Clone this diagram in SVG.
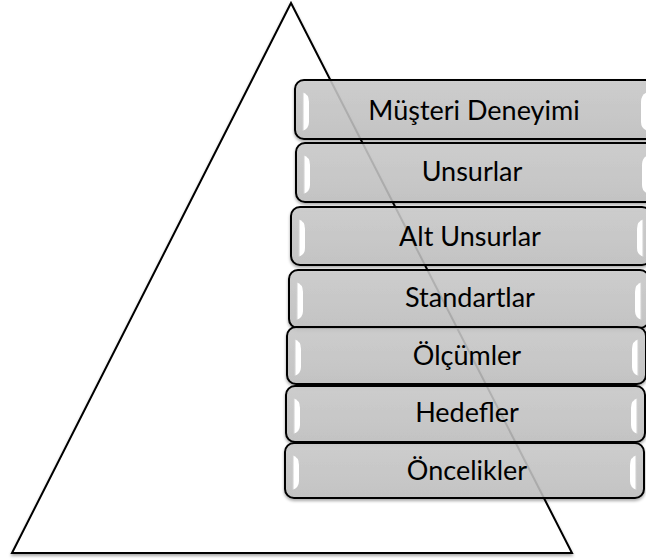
<svg xmlns="http://www.w3.org/2000/svg" width="646" height="560" viewBox="0 0 646 560">
<defs>
  <linearGradient id="boxFill" x1="0" y1="0" x2="0" y2="1">
    <stop offset="0" stop-color="#cbcbcb"/>
    <stop offset="0.5" stop-color="#c6c6c6"/>
    <stop offset="1" stop-color="#c0c0c0"/>
  </linearGradient>
  <linearGradient id="hlL" x1="0" y1="0" x2="1" y2="0">
    <stop offset="0" stop-color="#c0c0c0"/>
    <stop offset="0.35" stop-color="#ffffff"/>
    <stop offset="1" stop-color="#ffffff"/>
  </linearGradient>
  <linearGradient id="hlR" x1="1" y1="0" x2="0" y2="0">
    <stop offset="0" stop-color="#c0c0c0"/>
    <stop offset="0.35" stop-color="#ffffff"/>
    <stop offset="1" stop-color="#ffffff"/>
  </linearGradient>
  <filter id="shadow" x="-10%" y="-10%" width="120%" height="130%">
    <feDropShadow dx="0" dy="2" stdDeviation="1.5" flood-color="#000" flood-opacity="0.35"/>
  </filter>
</defs>
<style>
  .tri { fill: #ffffff; stroke: #000; stroke-width: 2; stroke-linejoin: miter; }
  .box { fill: url(#boxFill); fill-opacity: 0.85; stroke: #000; stroke-width: 2; }
  .hl { fill: url(#hlL); }
  .hr { fill: url(#hlR); }
  .lbl { font-family: Lato, "Liberation Sans", sans-serif; font-size: 27px; fill: #000; text-anchor: middle; }
</style>

<g id="pyramid">
  <polygon class="tri" points="291,3 572,553 12,553" filter="url(#shadow)"/>
</g>

<g id="layer1">
  <rect class="box" x="295" y="80" width="360" height="59" rx="9" filter="url(#shadow)"/>
  <path class="hl" d="M302,92 Q309,94 309,102 L309,122 Q309,129 302,131 Z"/>
  <path class="hr" d="M648,92 Q641,94 641,102 L641,122 Q641,129 648,131 Z"/>
  <text class="lbl" x="474" y="120">Müşteri Deneyimi</text>
</g>
<g id="layer2">
  <rect class="box" x="296" y="143" width="360" height="59" rx="9" filter="url(#shadow)"/>
  <path class="hl" d="M303,155 Q310,157 310,165 L310,185 Q310,192 303,194 Z"/>
  <path class="hr" d="M649,155 Q642,157 642,165 L642,185 Q642,192 649,194 Z"/>
  <text class="lbl" x="472" y="181">Unsurlar</text>
</g>
<g id="layer3">
  <rect class="box" x="291" y="207" width="360" height="58" rx="9" filter="url(#shadow)"/>
  <path class="hl" d="M298,219 Q305,221 305,229 L305,248 Q305,255 298,257 Z"/>
  <path class="hr" d="M644,219 Q637,221 637,229 L637,248 Q637,255 644,257 Z"/>
  <text class="lbl" x="470" y="246">Alt Unsurlar</text>
</g>
<g id="layer4">
  <rect class="box" x="289" y="270" width="360" height="58" rx="9" filter="url(#shadow)"/>
  <path class="hl" d="M296,282 Q303,284 303,292 L303,311 Q303,318 296,320 Z"/>
  <path class="hr" d="M642,282 Q635,284 635,292 L635,311 Q635,318 642,320 Z"/>
  <text class="lbl" x="470" y="307">Standartlar</text>
</g>
<g id="layer5">
  <rect class="box" x="287" y="327" width="359" height="57" rx="9" filter="url(#shadow)"/>
  <path class="hl" d="M294,339 Q301,341 301,349 L301,367 Q301,374 294,376 Z"/>
  <path class="hr" d="M639,339 Q632,341 632,349 L632,367 Q632,374 639,376 Z"/>
  <text class="lbl" x="467" y="365">Ölçümler</text>
</g>
<g id="layer6">
  <rect class="box" x="286" y="386" width="359" height="56" rx="9" filter="url(#shadow)"/>
  <path class="hl" d="M293,398 Q300,400 300,408 L300,425 Q300,432 293,434 Z"/>
  <path class="hr" d="M638,398 Q631,400 631,408 L631,425 Q631,432 638,434 Z"/>
  <text class="lbl" x="467" y="422">Hedefler</text>
</g>
<g id="layer7">
  <rect class="box" x="285" y="443" width="359" height="55" rx="9" filter="url(#shadow)"/>
  <path class="hl" d="M292,455 Q299,457 299,465 L299,481 Q299,488 292,490 Z"/>
  <path class="hr" d="M637,455 Q630,457 630,465 L630,481 Q630,488 637,490 Z"/>
  <text class="lbl" x="467" y="480">Öncelikler</text>
</g>
<g id="connectors"></g>
</svg>
